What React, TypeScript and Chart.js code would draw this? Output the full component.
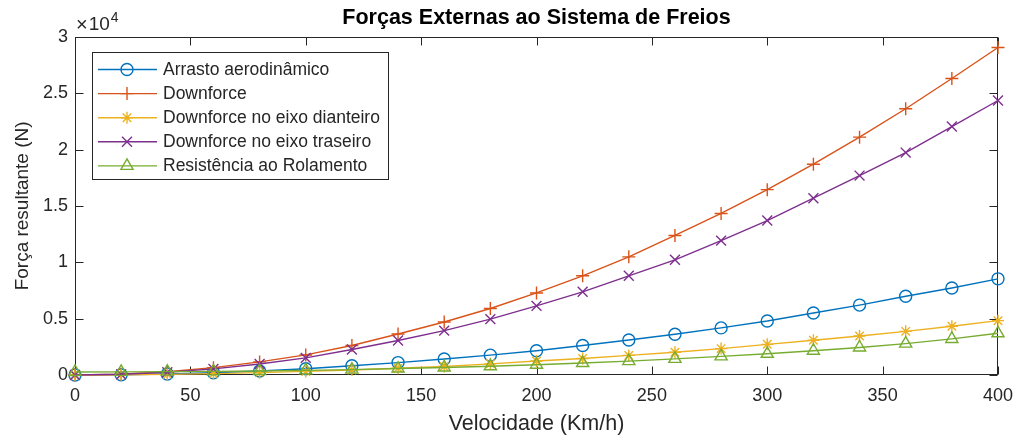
import React, { useEffect, useRef } from "react";
import { Chart, registerables } from "chart.js";
import { drawPoint } from "chart.js/helpers";

Chart.register(...registerables);

// ---------- data ----------
const velocities = [0, 20, 40, 60, 80, 100, 120, 140, 160, 180, 200, 220, 240, 260, 280, 300, 320, 340, 360, 380, 400];
const arrasto = [0, 20, 90, 200, 350, 560, 820, 1100, 1420, 1760, 2150, 2620, 3100, 3620, 4180, 4790, 5500, 6200, 6980, 7720, 8530];
const downforce = [0, 70, 290, 650, 1160, 1780, 2620, 3640, 4700, 5900, 7280, 8800, 10480, 12380, 14330, 16440, 18700, 21100, 23620, 26300, 29050];
const dfDianteiro = [0, 15, 55, 120, 210, 320, 450, 600, 760, 990, 1240, 1470, 1740, 2020, 2340, 2720, 3080, 3460, 3870, 4330, 4820];
const dfTraseiro = [0, 60, 245, 545, 970, 1520, 2260, 3060, 3940, 4960, 6130, 7380, 8800, 10220, 11920, 13700, 15680, 17690, 19730, 22040, 24350];
const rolamento = [270, 280, 300, 320, 350, 410, 480, 570, 670, 780, 910, 1060, 1230, 1430, 1650, 1880, 2150, 2440, 2780, 3200, 3700];

const seriesNames = [
  "Arrasto aerodinâmico",
  "Downforce",
  "Downforce no eixo dianteiro",
  "Downforce no eixo traseiro",
  "Resistência ao Rolamento",
];
const seriesValues = [arrasto, downforce, dfDianteiro, dfTraseiro, rolamento];
const seriesColors = ["#0072BD", "#D95319", "#EDB120", "#7E2F8E", "#77AC30"];
const markerStyles = ["circle", "cross", "star", "crossRot", "triangle"];
const markerRadius = [6, 6.5, 6, 7, 7];

const chartTitle = "Forças Externas ao Sistema de Freios";
const xLabel = "Velocidade (Km/h)";
const yLabel = "Força resultante (N)";
const xMin = 0, xMax = 400, xStep = 50;
const yMin = 0, yMax = 30000, yStep = 5000;
const yExponent = "4";

const FONT = "'Liberation Sans', Arial, Helvetica, sans-serif";
const AXIS = "#262626";
const LINE_W = 1.4;

const matlabAxes = {
  id: "matlabAxes",
  beforeDatasetsDraw(chart: any) {
    const { ctx, chartArea: ca, scales } = chart;
    ctx.save();
    ctx.strokeStyle = AXIS;
    ctx.lineWidth = 1;
    const L = Math.round(ca.left) + 0.5;
    const R = Math.round(ca.right) - 0.5;
    const T = Math.round(ca.top) + 0.5;
    const B = Math.round(ca.bottom) - 0.5;
    ctx.strokeRect(L, T, R - L, B - T);
    const tl = 8;
    ctx.beginPath();
    scales.x.ticks.forEach((t: any) => {
      const px = Math.round(scales.x.getPixelForValue(t.value)) + 0.5;
      ctx.moveTo(px, B);
      ctx.lineTo(px, B - tl);
      ctx.moveTo(px, T);
      ctx.lineTo(px, T + tl);
    });
    scales.y.ticks.forEach((t: any) => {
      const py = Math.round(scales.y.getPixelForValue(t.value)) + 0.5;
      ctx.moveTo(L, py);
      ctx.lineTo(L + tl, py);
      ctx.moveTo(R, py);
      ctx.lineTo(R - tl, py);
    });
    ctx.stroke();
    ctx.restore();
  },
  afterDatasetsDraw(chart: any) {
    const { ctx, chartArea: ca } = chart;
    ctx.save();
    // exponent label
    ctx.fillStyle = AXIS;
    ctx.textBaseline = "middle";
    ctx.textAlign = "left";
    ctx.font = `20px ${FONT}`;
    const times = "×";
    ctx.fillText(times, ca.left + 1, ca.top - 11);
    const tw = ctx.measureText(times).width;
    ctx.font = `19px ${FONT}`;
    ctx.fillText("10", ca.left + 1 + tw + 1, ca.top - 12);
    const bw = ctx.measureText("10").width;
    ctx.font = `14px ${FONT}`;
    ctx.fillText(yExponent, ca.left + 1 + tw + 1 + bw + 1, ca.top - 19);

    // legend
    const lx = Math.round(ca.left + 17);
    const ly = Math.round(ca.top + 15);
    const lw = 296, lh = 127;
    ctx.fillStyle = "#ffffff";
    ctx.fillRect(lx, ly, lw, lh);
    ctx.strokeStyle = AXIS;
    ctx.lineWidth = 1;
    ctx.strokeRect(lx + 0.5, ly + 0.5, lw, lh);
    seriesNames.forEach((name, i) => {
      const cy = ly + 17.5 + i * 24.1;
      ctx.strokeStyle = seriesColors[i];
      ctx.lineWidth = LINE_W;
      ctx.beginPath();
      ctx.moveTo(lx + 6, cy);
      ctx.lineTo(lx + 65, cy);
      ctx.stroke();
      ctx.fillStyle = "rgba(0,0,0,0)";
      drawPoint(ctx, { pointStyle: markerStyles[i], radius: markerRadius[i], borderWidth: LINE_W, rotation: 0 } as any, lx + 35, cy);
      ctx.fillStyle = AXIS;
      ctx.font = `17.5px ${FONT}`;
      ctx.textBaseline = "middle";
      ctx.textAlign = "left";
      ctx.fillText(name, lx + 71, cy + 0.5);
    });
    ctx.restore();
  },
};

export default function App() {
  const canvasRef = useRef<HTMLCanvasElement | null>(null);

  useEffect(() => {
    document.body.style.margin = "0";
    const canvas = canvasRef.current;
    if (!canvas) return;
    const datasets = seriesNames.map((name, i) => ({
      label: name,
      data: velocities.map((v, j) => ({ x: v, y: seriesValues[i][j] })),
      borderColor: seriesColors[i],
      backgroundColor: "rgba(0,0,0,0)",
      borderWidth: LINE_W,
      pointStyle: markerStyles[i],
      pointRadius: markerRadius[i],
      pointBorderWidth: LINE_W,
      pointBorderColor: seriesColors[i],
      pointBackgroundColor: "rgba(0,0,0,0)",
      tension: 0,
      fill: false,
      clip: false as any,
      order: seriesNames.length - 1 - i,
    }));
    const chart = new Chart(canvas, {
      type: "line",
      data: { datasets },
      options: {
        responsive: false,
        animation: false,
        events: [],
        layout: { padding: { left: 0, right: 18, top: 0, bottom: 0 } },
        plugins: {
          legend: { display: false },
          tooltip: { enabled: false },
          title: {
            display: true,
            text: chartTitle,
            fullSize: false,
            color: "#000000",
            font: { family: FONT, size: 21.5, weight: "bold" },
            padding: { top: 5, bottom: 6 },
          },
        },
        scales: {
          x: {
            type: "linear",
            min: xMin,
            max: xMax,
            ticks: {
              stepSize: xStep,
              color: AXIS,
              font: { family: FONT, size: 18, lineHeight: 1.65 },
              padding: 6,
              maxRotation: 0,
              autoSkip: false,
            },
            grid: { display: false, drawTicks: false },
            border: { display: false },
            title: {
              display: true,
              text: xLabel,
              color: AXIS,
              font: { family: FONT, size: 21.5 },
              padding: { top: 0, bottom: 2 },
            },
            afterFit: (s: any) => {
              s.height = 64;
              s.paddingLeft = 0;
              s.paddingRight = 0;
            },
          },
          y: {
            type: "linear",
            min: yMin,
            max: yMax,
            ticks: {
              stepSize: yStep,
              color: AXIS,
              font: { family: FONT, size: 18 },
              padding: 7,
              callback: (v: any) => String(Number(v) / 10000),
            },
            grid: { display: false, drawTicks: false },
            border: { display: false },
            title: {
              display: true,
              text: yLabel,
              color: AXIS,
              font: { family: FONT, size: 19 },
              padding: { top: 11, bottom: 0 },
            },
            afterFit: (s: any) => {
              s.width = 75;
            },
          },
        },
      } as any,
      plugins: [matlabAxes],
    });
    return () => chart.destroy();
  }, []);

  return (
    <div style={{ width: 1016, height: 439, background: "#ffffff" }}>
      <canvas ref={canvasRef} width={1016} height={439} style={{ display: "block" }} />
    </div>
  );
}
